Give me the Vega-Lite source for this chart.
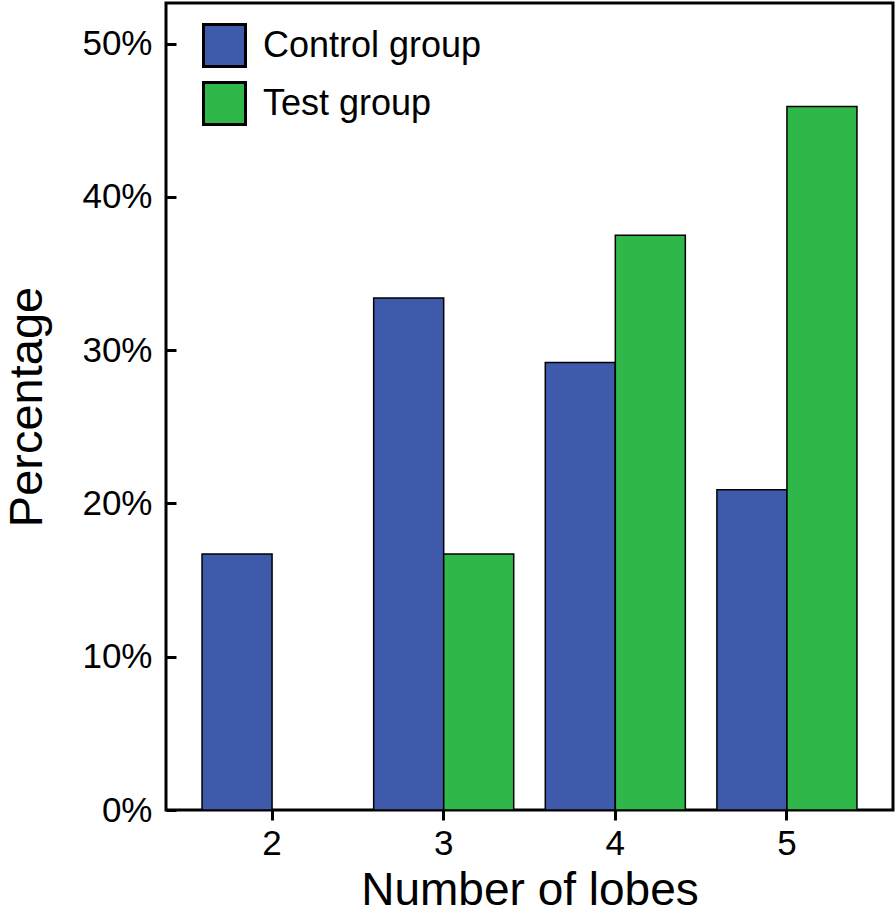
{
  "$schema": "https://vega.github.io/schema/vega-lite/v6.json",
  "width": 727,
  "height": 807,
  "autosize": {"type": "none"},
  "padding": {"left": 166, "top": 3, "right": 3, "bottom": 104},
  "background": "white",
  "config": {
    "font": "Liberation Sans",
    "view": {"stroke": "black", "strokeWidth": 3},
    "axis": {"domain": false, "grid": false, "tickColor": "black", "tickWidth": 3, "labelColor": "black", "titleColor": "black", "labelFont": "Liberation Sans", "titleFont": "Liberation Sans", "titleFontWeight": "normal"}
  },
  "data": {
    "values": [
      {"lobes": "2", "group": "Control group", "pct": 0.167},
      {"lobes": "2", "group": "Test group", "pct": 0.0},
      {"lobes": "3", "group": "Control group", "pct": 0.334},
      {"lobes": "3", "group": "Test group", "pct": 0.167},
      {"lobes": "4", "group": "Control group", "pct": 0.292},
      {"lobes": "4", "group": "Test group", "pct": 0.375},
      {"lobes": "5", "group": "Control group", "pct": 0.209},
      {"lobes": "5", "group": "Test group", "pct": 0.459}
    ]
  },
  "mark": {"type": "bar", "stroke": "black", "strokeWidth": 1.5, "opacity": 1},
  "encoding": {
    "x": {
      "field": "lobes", "type": "ordinal", "title": "Number of lobes",
      "scale": {"paddingInner": 0.184, "paddingOuter": 0.21},
      "axis": {"labelAngle": 0, "labelFontSize": 35, "titleFontSize": 46, "tickSize": 10, "labelPadding": 6, "titlePadding": 7}
    },
    "xOffset": {"field": "group", "type": "nominal", "scale": {"paddingInner": 0, "paddingOuter": 0}},
    "y": {
      "field": "pct", "type": "quantitative", "title": "Percentage",
      "scale": {"domain": [0, 0.5265], "nice": false, "zero": true},
      "axis": {"values": [0, 0.1, 0.2, 0.3, 0.4, 0.5], "format": ".0%", "labelFontSize": 35, "titleFontSize": 47, "tickSize": -10, "labelPadding": 24, "titlePadding": 30}
    },
    "color": {
      "field": "group", "type": "nominal", "title": null,
      "scale": {"domain": ["Control group", "Test group"], "range": ["#3F59AB", "#2FB74A"]},
      "legend": {
        "orient": "none", "legendX": 36, "legendY": 20,
        "symbolType": "square", "symbolSize": 1764, "symbolStrokeColor": "black", "symbolStrokeWidth": 3, "symbolOpacity": 1,
        "labelFontSize": 36, "labelColor": "black", "labelOffset": 16, "labelLimit": 500, "rowPadding": 3
      }
    }
  }
}
